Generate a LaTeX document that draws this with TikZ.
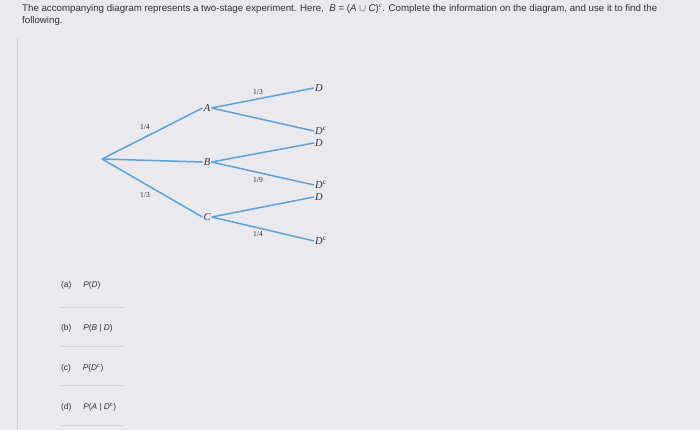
\documentclass[tikz,border=0pt]{standalone}
\usepackage{fontspec}
\setmainfont{Liberation Serif}
\setsansfont{Liberation Sans}
\definecolor{bg}{HTML}{E9E9EE}
\definecolor{branch}{HTML}{5FA2DA}
\definecolor{ink}{HTML}{2E2E33}
\definecolor{rule}{HTML}{D2D2D8}
\tikzset{
  ev/.style={font=\itshape\fontsize{10.5}{10.5}\selectfont, text=ink, inner sep=1pt},
  leaf/.style={ev, anchor=west},
  prob/.style={font=\fontsize{7.5}{7.5}\selectfont, text=ink, inner sep=0pt},
  br/.style={draw=branch, line width=1.5pt},
  item/.style={font=\sffamily\fontsize{8.3}{8.3}\selectfont, text=ink, anchor=west, inner sep=0pt},
  ans/.style={draw=rule, line width=0.8pt}
}
\begin{document}
\begin{tikzpicture}[x=1pt,y=-1pt]
\fill[bg] (0,0) rectangle (700,430);
\useasboundingbox (0,0) rectangle (700,430);
% header
\node[anchor=north west, align=left, inner sep=0pt, text=ink,
      font=\sffamily\fontsize{9.7}{12}\selectfont] (hdr) at (22,4)
 {The accompanying diagram represents a two-stage experiment. Here,\ \ \textit{B} = (\textit{A} $\cup$ \textit{C})$^{\mathit{c}}$. Complete the information on the diagram, and use it to find the\\following.};
% panel border
\coordinate (p1) at (17,430);
\coordinate (p2) at (17,38);
\draw[rule, line width=0.6pt] (p1) -- (p2);
% tree
\coordinate (R) at (102,159);
\node[ev] (A) at (207,108) {A};
\node[ev] (B) at (207,162) {B};
\node[ev] (C) at (207,217) {C};
\node[leaf] (AD) at (314,88) {D};
\node[leaf] (ADc) at (314,131) {D\textsuperscript{\upshape c}};
\node[leaf] (BD) at (314,143) {D};
\node[leaf] (BDc) at (314,185) {D\textsuperscript{\upshape c}};
\node[leaf] (CD) at (314,197) {D};
\node[leaf] (CDc) at (314,241) {D\textsuperscript{\upshape c}};
\draw[br] (R) -- (A.west);
\draw[br] (R) -- (B.west);
\draw[br] (R) -- (C.west);
\draw[br] (A.east) -- (AD.west);
\draw[br] (A.east) -- (ADc.west);
\draw[br] (B.east) -- (BD.west);
\draw[br] (B.east) -- (BDc.west);
\draw[br] (C.east) -- (CD.west);
\draw[br] (C.east) -- (CDc.west);
\node[prob] (pA) at (145,127) {1/4};
\node[prob] (pC) at (145,195) {1/3};
\node[prob] (pAD) at (258,92) {1/3};
\node[prob] (pBDc) at (258,180) {1/9};
\node[prob] (pCDc) at (258,234) {1/4};
% questions
\node[item] (qa) at (61,285) {(a)\hspace{12pt}\textit{P}(\textit{D})};
\node[item] (qb) at (61,328) {(b)\hspace{12pt}\textit{P}(\textit{B} | \textit{D})};
\node[item] (qc) at (61,368) {(c)\hspace{12pt}\textit{P}(\textit{D}\textsuperscript{\upshape c})};
\node[item] (qd) at (61,407) {(d)\hspace{12pt}\textit{P}(\textit{A} | \textit{D}\textsuperscript{\upshape c})};
\coordinate (la1) at (60,307); \coordinate (la2) at (124,307);
\coordinate (lb1) at (60,346); \coordinate (lb2) at (124,346);
\coordinate (lc1) at (60,385); \coordinate (lc2) at (124,385);
\coordinate (ld1) at (60,425); \coordinate (ld2) at (124,425);
\draw[ans] (la1) -- (la2);
\draw[ans] (lb1) -- (lb2);
\draw[ans] (lc1) -- (lc2);
\draw[ans] (ld1) -- (ld2);
\end{tikzpicture}
\end{document}
